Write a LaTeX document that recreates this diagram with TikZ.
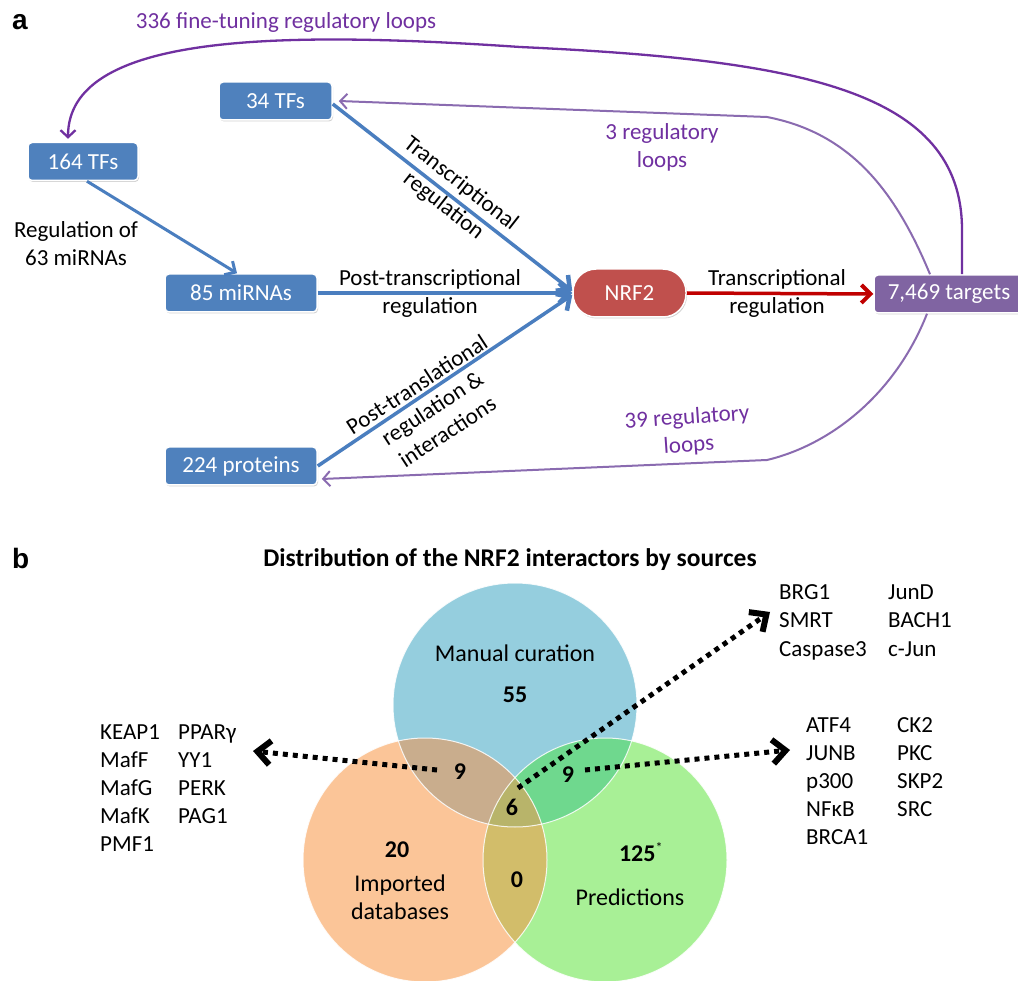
\documentclass[tikz,border=0pt]{standalone}
\usepackage{fontspec}
\setmainfont{Carlito}
\newfontfamily\lsans{Liberation Sans}
\usetikzlibrary{arrows.meta,shadows}
\definecolor{cblue}{HTML}{4F81BD}
\definecolor{lblue}{HTML}{4A7EBF}
\definecolor{cred}{HTML}{C0504D}
\definecolor{arrred}{HTML}{C00000}
\definecolor{cpurp}{HTML}{8064A2}
\definecolor{dpurp}{HTML}{7030A0}
\definecolor{lpurp}{HTML}{8A6BB0}
\definecolor{vblue}{HTML}{95CEDE}
\definecolor{vorange}{HTML}{FBC598}
\definecolor{vgreen}{HTML}{A8F096}
\definecolor{vbo}{HTML}{C9AD8D}
\definecolor{vbg}{HTML}{6FD88E}
\definecolor{vog}{HTML}{D2BD6A}
\definecolor{vall}{HTML}{B8B46A}
\newcommand\fsA{\fontsize{23}{28}\selectfont}
\newcommand\fsV{\fontsize{24}{28}\selectfont}
\begin{document}
\begin{tikzpicture}[x=1pt,y=-1pt,
  box/.style={rounded corners=4pt, fill=cblue, draw=white, line width=1.5pt,
    text=white, font=\fsA, minimum height=38pt, inner sep=0pt,
    drop shadow={opacity=0.35, shadow xshift=1pt, shadow yshift=-1.5pt}},
  lab/.style={font=\fsA, text=black, inner sep=0pt, align=center},
  plab/.style={font=\fsA, text=dpurp, inner sep=0pt, align=center},
  thinblue/.style={draw=lblue, line width=3pt, -{Straight Barb[length=8pt,width=16pt,line width=3pt]}},
  bluearr/.style={draw=lblue, line width=3.5pt, -{Straight Barb[length=10pt,width=20pt,line width=4.5pt]}},
  redarr/.style={draw=arrred, line width=3.5pt, -{Straight Barb[length=9pt,width=18pt,line width=4pt]}},
  loopdark/.style={draw=dpurp, line width=2.3pt, -{Straight Barb[length=7pt,width=15pt,line width=2.3pt]}},
  looplight/.style={draw=lpurp, line width=2pt, -{Straight Barb[length=7pt,width=15pt,line width=2pt]}},
  vtxt/.style={font=\fsV, inner sep=0pt},
  vnum/.style={font=\fsV\bfseries, inner sep=0pt},
  ltxt/.style={font=\fsA, inner sep=0pt, anchor=base west},
  dotarr/.style={draw=black, line width=5pt, dash pattern=on 5pt off 5pt,
    -{Straight Barb[length=13pt,width=24pt,line width=6pt]}},
  panel/.style={font=\lsans\bfseries\fontsize{28}{30}\selectfont, inner sep=0pt, anchor=base west}
]
\useasboundingbox (0,0) rectangle (1018,981);
\fill[white] (0,0) rectangle (1018,981);

% ---------- panel a ----------
\node[panel] (pa) at (12,30) {a};

\node[box, minimum width=110pt] (tf164) at (83,161.5) {164 TFs};
\node[box, minimum width=113pt] (tf34) at (275.5,101) {34 TFs};
\node[box, minimum width=152pt] (mir) at (241,293) {85 miRNAs};
\node[box, minimum width=152pt] (prot) at (241,466) {224 proteins};
\node[box, fill=cred, rounded corners=23pt, minimum width=113pt, minimum height=48pt] (nrf) at (629.5,293) {NRF2};
\node[box, fill=cpurp, minimum width=150pt] (tgt) at (949,294) {7,469 targets};

% connectors
\draw[thinblue] ([xshift=4pt]tf164.south) -- ([xshift=-4pt]mir.north);
\draw[bluearr] ([yshift=-3pt]tf34.east) -- ([yshift=2pt]nrf.west);
\draw[bluearr] (mir.east) -- (nrf.west);
\draw[bluearr] (prot.east) -- ([yshift=-2pt]nrf.west);
\draw[redarr] (nrf.east) -- (tgt.west);

% loops
\draw[loopdark] ([xshift=13pt]tgt.north) -- (962,230)
   .. controls (962,90) and (800,60) .. (520,47)
   .. controls (270,30) and (68,35) .. ([xshift=-15pt,yshift=3pt]tf164.north);
\draw[looplight] ([xshift=-19pt]tgt.north) .. controls (895,190) and (850,133) .. (767,117)
   -- ([xshift=6pt]tf34.east);
\draw[looplight] ([xshift=-22pt]tgt.south) .. controls (895,395) and (830,445) .. (767,460)
   -- ([xshift=4pt,yshift=-13pt]prot.east);

% labels
\node[plab] (l336) at (286,22) {336 fine-tuning regulatory loops};
\node[plab] (l3) at (662,147) {3 regulatory\\loops};
\node[plab, rotate=4] (l39) at (688,432) {39 regulatory\\loops};
\node[lab] (lreg) at (76,244) {Regulation of\\63 miRNAs};
\node[lab, rotate=-38] (ltr) at (452,195) {Transcriptional\\regulation};
\node[lab] (lpt) at (430,293) {Post-transcriptional\\regulation};
\node[lab, rotate=33] (lptl) at (432,408) {Post-translational\\regulation \&\\interactions};
\node[lab] (ltr2) at (777,293) {Transcriptional\\regulation};

% ---------- panel b ----------
\node[panel] (pb) at (12,568) {b};
\node[font=\fontsize{25.5}{30}\selectfont\bfseries, inner sep=0pt, anchor=base] (ttl) at (510,566) {Distribution of the NRF2 interactors by sources};

% Venn
\fill[vorange] (425,860) circle[radius=122pt];
\fill[vgreen] (605,860) circle[radius=122pt];
\fill[vblue] (515,705) circle[radius=122pt];
\begin{scope}
  \clip (515,705) circle[radius=122pt];
  \fill[vbo] (425,860) circle[radius=122pt];
  \fill[vbg] (605,860) circle[radius=122pt];
\end{scope}
\begin{scope}
  \clip (425,860) circle[radius=122pt];
  \fill[vog] (605,860) circle[radius=122pt];
  \clip (605,860) circle[radius=122pt];
  \fill[vall] (515,705) circle[radius=122pt];
\end{scope}
\draw[white, line width=1pt, opacity=0.85] (425,860) circle[radius=122pt];
\draw[white, line width=1pt, opacity=0.85] (605,860) circle[radius=122pt];
\draw[white, line width=1pt, opacity=0.85] (515,705) circle[radius=122pt];

\node[vtxt] (vman) at (515,653) {Manual curation};
\node[vnum] (v55) at (515,695) {55};
\node[vnum] (v9a) at (460,772) {9};
\node[vnum] (v6) at (512,807) {6};
\node[vnum] (v9b) at (568,775) {9};
\node[vnum] (v20) at (397,850) {20};
\node[vtxt, align=center] (vimp) at (400,897) {Imported\\databases};
\node[vnum] (v0) at (517,880) {0};
\node[vnum] (v125) at (641,852) {125\textsuperscript{\mdseries\fontsize{14}{14}\selectfont *}};
\node[vtxt] (vpred) at (630,897) {Predictions};

% lists
\foreach \t [count=\i] in {KEAP1,MafF,MafG,MafK,PMF1}
  \node[ltxt] (la\i) at (100,{739+28*(\i-1)}) {\t};
\foreach \t [count=\i] in {PPARγ,YY1,PERK,PAG1}
  \node[ltxt] (lb\i) at (178,{739+28*(\i-1)}) {\t};
\foreach \t [count=\i] in {BRG1,SMRT,Caspase3}
  \node[ltxt] (ta\i) at (779,{599+28.5*(\i-1)}) {\t};
\foreach \t [count=\i] in {JunD,BACH1,c-Jun}
  \node[ltxt] (tb\i) at (888,{599+28.5*(\i-1)}) {\t};
\foreach \t [count=\i] in {ATF4,JUNB,p300,NFκB,BRCA1}
  \node[ltxt] (ra\i) at (806,{732+28.2*(\i-1)}) {\t};
\foreach \t [count=\i] in {CK2,PKC,SKP2,SRC}
  \node[ltxt] (rb\i) at (897,{732+28.2*(\i-1)}) {\t};

% dotted arrows
\coordinate (d1s) at (437,770); \coordinate (d1e) at (253,751);
\coordinate (d2s) at (518,788); \coordinate (d2e) at (770,612);
\coordinate (d3s) at (585,770); \coordinate (d3e) at (790,750);
\draw[dotarr] (d1s) -- (d1e);
\draw[dotarr] (d2s) -- (d2e);
\draw[dotarr] (d3s) -- (d3e);
\end{tikzpicture}
\end{document}
